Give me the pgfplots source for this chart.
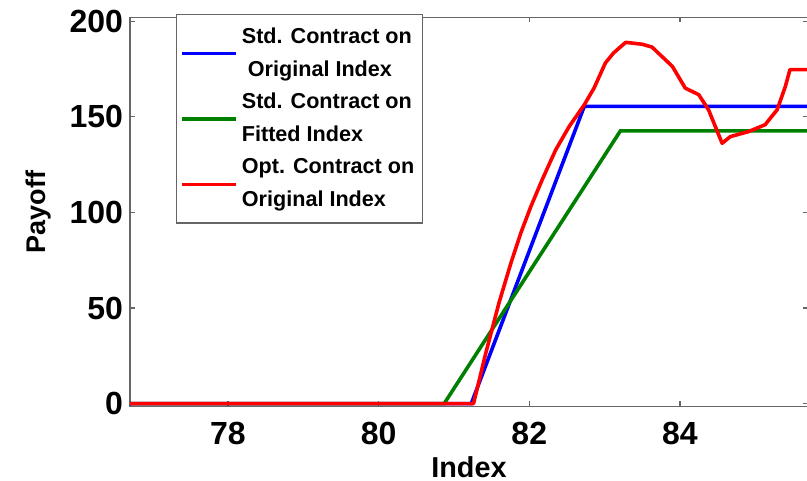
\documentclass[border=0pt]{standalone}
\usepackage{pgfplots}
\pgfplotsset{compat=1.18}
\usepackage{fontspec}
\setmainfont{Liberation Sans}
\definecolor{mblue}{RGB}{0,0,255}
\definecolor{mgreen}{RGB}{0,128,0}
\definecolor{mred}{RGB}{255,0,0}
\begin{document}
\begin{tikzpicture}
\begin{axis}[
  scale only axis,
  width=339pt, height=194.5pt,
  xmin=76.7, xmax=85.7,
  ymin=-1.5, ymax=202,
  xtick={78,80,82,84},
  ytick={0,50,100,150,200},
  tick align=inside,
  major tick length=2.5pt,
  axis line style={draw=black!60, line width=0.6pt},
  every tick/.style={black!60, line width=0.6pt},
  /pgf/number format/assume math mode=true,
  tick label style={font=\fontsize{16}{16}\selectfont\bfseries},
  xticklabel style={yshift=-4.5pt},
  xlabel={Index},
  ylabel={Payoff},
  xlabel style={font=\fontsize{14.4}{14.4}\selectfont\bfseries, inner sep=0pt, yshift=-2pt},
  ylabel style={font=\fontsize{13.5}{13.5}\selectfont\bfseries, yshift=2.5pt},
  legend style={
    at={(0.068,1.009)}, anchor=north west,
    draw=black!60, line width=0.6pt,
    font=\fontsize{10.8}{16.5}\selectfont\bfseries,
    cells={align=left},
    inner xsep=2pt, inner ysep=4.5pt,
    row sep=3pt,
  },
  legend cell align=left,
  legend image code/.code={\draw[#1, line width=1.6pt] (0pt,0pt) -- (27pt,0pt);},
]
\addplot[mblue, line width=1.8pt] coordinates {
 (76.7,0) (81.23,0) (82.73,155.5) (85.7,155.5)};
\addlegendentry{Std. Contract on\\ \ Original Index}
\addplot[mgreen, line width=1.8pt] coordinates {
 (76.7,0) (80.87,0) (83.21,142.7) (85.7,142.7)};
\addlegendentry{Std. Contract on\\Fitted Index}
\addplot[mred, line width=1.8pt, line join=round] coordinates {
 (76.7,0) (81.26,0) (81.42,26) (81.60,53) (81.76,74) (81.89,89.5) (82.02,103)
 (82.17,117) (82.35,132.7) (82.53,145) (82.73,156.3) (82.86,165.1)
 (83.01,178.2) (83.12,183.5) (83.28,189) (83.50,188) (83.63,186.5)
 (83.90,176.4) (84.07,165.1) (84.25,161.6) (84.38,153.7) (84.56,136.2)
 (84.67,139.7) (84.91,142.3) (85.13,145.9) (85.29,153.7) (85.40,166)
 (85.46,174.7) (85.70,174.7)};
\addlegendentry{Opt. Contract on\\Original Index}
\end{axis}
\pgfresetboundingbox
\path[use as bounding box] ([shift={(-65pt,-37pt)}]current axis.south west) rectangle ([shift={(338.5pt,203.25pt)}]current axis.south west);
\end{tikzpicture}
\end{document}
